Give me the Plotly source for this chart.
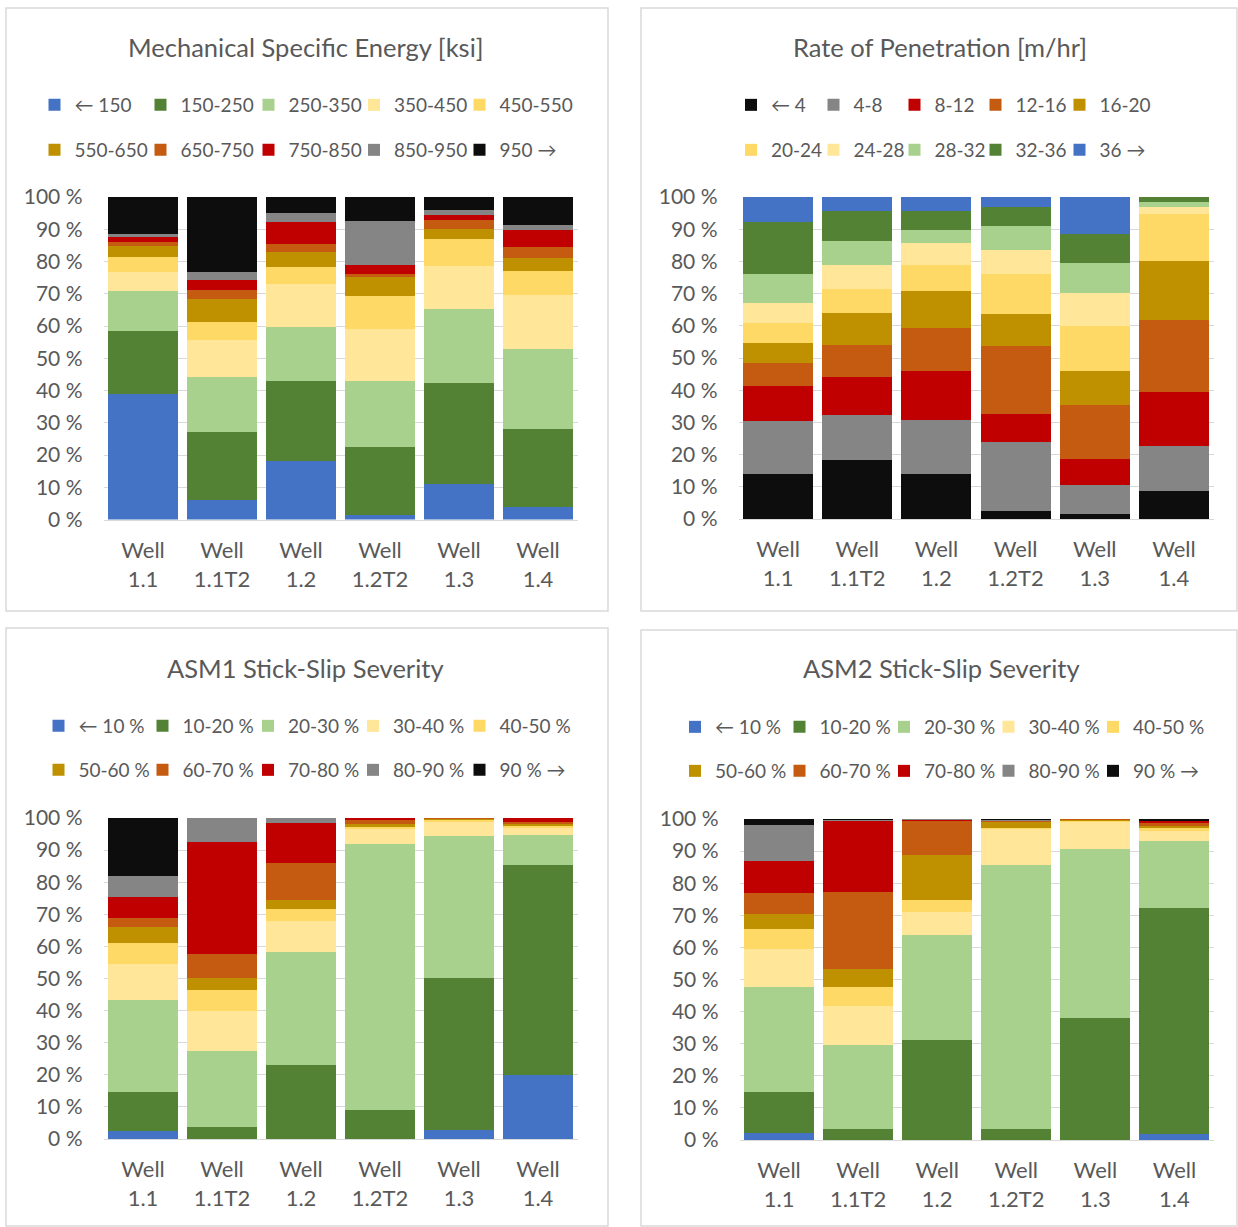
import plotly.graph_objects as go

W, H = 1238, 1227

wells = ["Well<br>1.1", "Well<br>1.1T2", "Well<br>1.2", "Well<br>1.2T2", "Well<br>1.3", "Well<br>1.4"]

# ---- Mechanical Specific Energy [ksi] (bins bottom -> top), values in % per well
mse_bins = ["\u2190 150", "150-250", "250-350", "350-450", "450-550",
            "550-650", "650-750", "750-850", "850-950", "950 \u2192"]
mse_values = [
    [38.8, 6.2, 18.1, 1.4, 10.9, 3.8],
    [19.7, 21.0, 25.0, 21.0, 31.3, 24.2],
    [12.2, 17.0, 16.5, 20.7, 23.0, 25.0],
    [6.0, 11.5, 13.5, 16.1, 13.5, 16.6],
    [4.8, 5.6, 5.2, 10.1, 8.3, 7.5],
    [3.2, 7.1, 4.7, 5.8, 3.2, 3.9],
    [1.5, 2.7, 2.3, 1.1, 2.8, 3.6],
    [1.3, 3.2, 6.8, 2.8, 1.5, 5.2],
    [1.0, 2.3, 2.8, 13.5, 1.6, 1.4],
    [11.5, 23.4, 5.1, 7.5, 3.9, 8.8],
]

# ---- Rate of Penetration [m/hr]
rop_bins = ["\u2190 4", "4-8", "8-12", "12-16", "16-20",
            "20-24", "24-28", "28-32", "32-36", "36 \u2192"]
rop_values = [
    [13.9, 18.3, 13.9, 2.4, 1.6, 8.7],
    [16.6, 13.9, 17.0, 21.4, 9.0, 13.9],
    [10.8, 11.8, 15.2, 8.7, 8.1, 16.8],
    [7.2, 10.0, 13.1, 21.1, 16.6, 22.5],
    [6.3, 10.0, 11.5, 10.0, 10.8, 18.3],
    [6.1, 7.4, 8.3, 12.6, 13.8, 14.4],
    [6.2, 7.6, 6.8, 7.2, 10.4, 2.4],
    [9.1, 7.2, 4.0, 7.6, 9.1, 1.5],
    [15.9, 9.5, 5.9, 6.0, 9.2, 1.5],
    [7.9, 4.3, 4.3, 3.0, 11.4, 0.0],
]

# ---- ASM1 Stick-Slip Severity
ss_bins = ["\u2190 10 %", "10-20 %", "20-30 %", "30-40 %", "40-50 %",
           "50-60 %", "60-70 %", "70-80 %", "80-90 %", "90 % \u2192"]
asm1_values = [
    [2.4, 0.0, 0.0, 0.0, 2.7, 19.8],
    [12.3, 3.8, 23.1, 9.1, 47.6, 65.5],
    [28.5, 23.5, 35.3, 82.9, 44.1, 9.5],
    [11.2, 12.7, 9.5, 4.6, 4.6, 2.1],
    [6.6, 6.4, 3.8, 0.7, 0.6, 0.8],
    [4.9, 3.9, 2.9, 0.7, 0.2, 0.5],
    [3.0, 7.2, 11.5, 1.4, 0.2, 0.7],
    [6.5, 34.9, 12.3, 0.6, 0.0, 1.1],
    [6.6, 7.6, 1.6, 0.0, 0.0, 0.0],
    [18.0, 0.0, 0.0, 0.0, 0.0, 0.0],
]

# ---- ASM2 Stick-Slip Severity
asm2_values = [
    [2.1, 0.0, 0.0, 0.0, 0.0, 1.9],
    [12.7, 3.4, 31.0, 3.4, 37.9, 70.4],
    [33.0, 26.1, 33.0, 82.2, 52.7, 21.0],
    [11.8, 12.3, 7.1, 11.5, 8.7, 3.1],
    [6.0, 6.0, 3.6, 0.2, 0.3, 0.9],
    [4.7, 5.5, 14.2, 1.9, 0.1, 0.6],
    [6.6, 24.1, 10.7, 0.2, 0.3, 0.9],
    [10.0, 22.2, 0.2, 0.1, 0.0, 0.8],
    [11.2, 0.2, 0.2, 0.2, 0.0, 0.0],
    [1.9, 0.2, 0.0, 0.3, 0.0, 0.4],
]

titles = ["Mechanical Specific Energy [ksi]", "Rate of Penetration [m/hr]",
          "ASM1 Stick-Slip Severity", "ASM2 Stick-Slip Severity"]

y_ticks = [0, 10, 20, 30, 40, 50, 60, 70, 80, 90, 100]
y_ticktext = [f"{v} %" for v in y_ticks]

BLUE, DKG, LTG, LTY, YEL = "#4472C4", "#548235", "#A9D18E", "#FFE699", "#FFD966"
GOLD, ORA, RED, GRY, BLK = "#BF9000", "#C55A11", "#C00000", "#858585", "#0D0D0D"
colors_up = [BLUE, DKG, LTG, LTY, YEL, GOLD, ORA, RED, GRY, BLK]
colors_rop = [BLK, GRY, RED, ORA, GOLD, YEL, LTY, LTG, DKG, BLUE]

FONT = "Lato, 'Open Sans', sans-serif"
TXT = "#595959"


def px_x(p):
    return p / W


def px_y(p):
    return 1 - p / H


# layout geometry (pixels): legend swatch columns and row centres per panel
panels = [
    dict(bins=mse_bins, vals=mse_values, cols=colors_up, x0=103.5, x1=577.5, ytop=197, ybot=519.5,
         leg_cols=(49.5, 155.5, 263.5, 369, 474.5), leg_rows=(105, 150),
         title_xy=(306, 47), box=(6, 8, 608, 611)),
    dict(bins=rop_bins, vals=rop_values, cols=colors_rop, x0=738.5, x1=1213.5, ytop=197, ybot=519,
         leg_cols=(746, 828.5, 909.5, 990.5, 1074.5), leg_rows=(105, 150),
         title_xy=(940, 47), box=(641, 8, 1237, 611)),
    dict(bins=ss_bins, vals=asm1_values, cols=colors_up, x0=103.5, x1=577.5, ytop=818, ybot=1139,
         leg_cols=(53.5, 157.5, 263, 368, 474.5), leg_rows=(726, 770),
         title_xy=(305, 668), box=(6, 628, 608, 1226)),
    dict(bins=ss_bins, vals=asm2_values, cols=colors_up, x0=739.5, x1=1214, ytop=819, ybot=1140,
         leg_cols=(690, 794.5, 899, 1003.5, 1108), leg_rows=(727, 771),
         title_xy=(941, 668), box=(641, 630, 1237, 1226)),
]

fig = go.Figure()
layout = dict(
    width=W, height=H, margin=dict(l=0, r=0, t=0, b=0),
    paper_bgcolor="white", plot_bgcolor="white",
    barmode="stack", bargap=0.115, showlegend=True,
    font=dict(family=FONT, color=TXT, size=19),
    shapes=[], annotations=[],
)

leg_index = 0
for i, p in enumerate(panels):
    n = i + 1
    xa = "x" if n == 1 else f"x{n}"
    ya = "y" if n == 1 else f"y{n}"
    for k, (name, vals, col) in enumerate(zip(p["bins"], p["vals"], p["cols"])):
        leg_index += 1
        lg = "legend" if leg_index == 1 else f"legend{leg_index}"
        fig.add_trace(go.Bar(
            x=wells, y=vals, name=name, xaxis=xa, yaxis=ya,
            marker=dict(color=col, line=dict(width=0)),
            legend=lg, showlegend=True,
            hovertemplate="%{x}<br>" + name + ": %{y:.1f} %<extra></extra>",
        ))
        layout[lg] = dict(
            orientation="h", x=px_x(p["leg_cols"][k % 5] - 15), xanchor="left",
            y=px_y(p["leg_rows"][k // 5]), yanchor="middle",
            font=dict(family=FONT, size=19, color=TXT), bgcolor="rgba(0,0,0,0)",
            borderwidth=0, itemclick=False, itemdoubleclick=False,
        )
    xkey = "xaxis" if n == 1 else f"xaxis{n}"
    ykey = "yaxis" if n == 1 else f"yaxis{n}"
    layout[xkey] = dict(
        domain=[px_x(p["x0"]), px_x(p["x1"])], anchor=ya, type="category",
        showline=True, linecolor="#D9D9D9", linewidth=1, showgrid=False,
        ticks="", tickfont=dict(family=FONT, size=22, color=TXT), automargin=False,
        ticklabelstandoff=11, fixedrange=True,
    )
    layout[ykey] = dict(
        domain=[px_y(p["ybot"]), px_y(p["ytop"])], anchor=xa, range=[0, 100],
        tickvals=y_ticks, ticktext=y_ticktext, showgrid=True, gridcolor="#D9D9D9", gridwidth=1,
        zeroline=False, showline=False, ticks="",
        tickfont=dict(family=FONT, size=21, color=TXT), automargin=False,
        ticklabelstandoff=20, fixedrange=True,
    )
    bx0, by0, bx1, by1 = p["box"]
    layout["shapes"].append(dict(
        type="rect", xref="paper", yref="paper", x0=px_x(bx0), x1=px_x(bx1),
        y0=px_y(by1), y1=px_y(by0), line=dict(color="#D9D9D9", width=1.5), layer="below",
    ))
    tx, ty = p["title_xy"]
    layout["annotations"].append(dict(
        text=titles[i], xref="paper", yref="paper", x=px_x(tx), y=px_y(ty),
        xanchor="center", yanchor="middle", showarrow=False,
        font=dict(family=FONT, size=25.5, color=TXT),
    ))

fig.update_layout(**layout)
fig.write_html(
    "out.html",
    config={"displayModeBar": False},
    post_script="document.body.style.margin='0px';document.body.style.overflow='hidden';",
)
